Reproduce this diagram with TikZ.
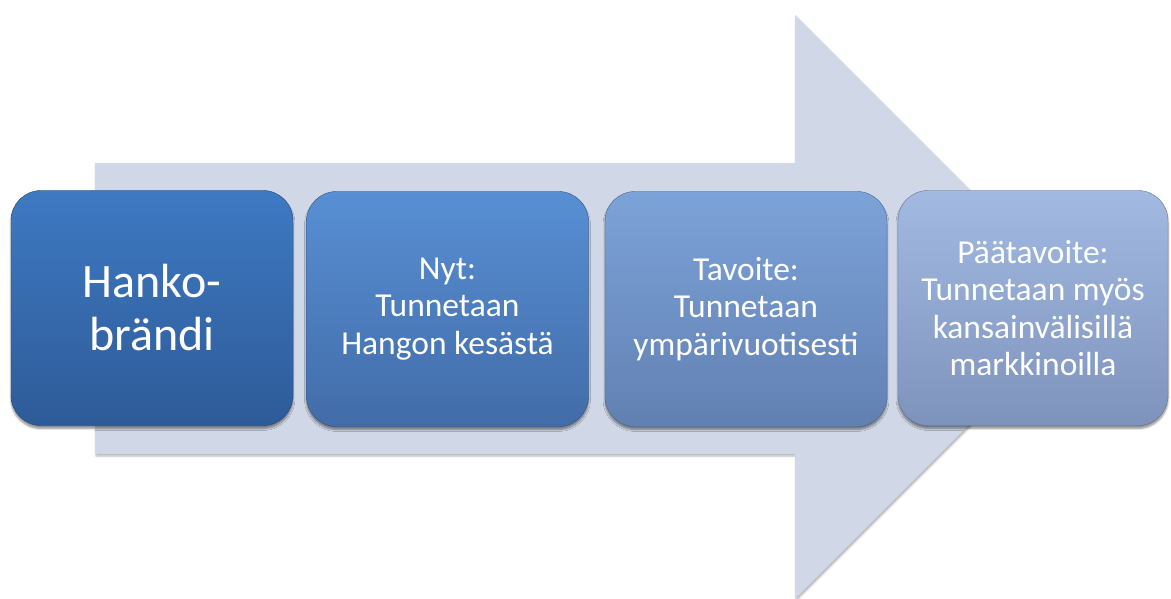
\documentclass[tikz,border=0pt]{standalone}
\usepackage{fontspec}
\setmainfont{Carlito}
\usetikzlibrary{shadows.blur}
\definecolor{arrowfill}{RGB}{208,215,230}
\definecolor{boxAtop}{RGB}{62,121,194}
\definecolor{boxAbot}{RGB}{46,91,152}
\definecolor{boxBtop}{RGB}{88,143,212}
\definecolor{boxBbot}{RGB}{66,108,168}
\definecolor{boxCtop}{RGB}{124,163,217}
\definecolor{boxCbot}{RGB}{98,128,178}
\definecolor{boxDtop}{RGB}{162,186,226}
\definecolor{boxDbot}{RGB}{126,147,188}
\tikzset{
  stagebox/.style={rounded corners=30pt, minimum height=235pt, inner sep=4pt,
    align=center, text=white, font=\fontsize{33.5}{37.5}\selectfont,
    blur shadow={shadow xshift=0pt, shadow yshift=-3pt, shadow blur steps=6, shadow opacity=45}},
}
\begin{document}
\begin{tikzpicture}[x=1pt,y=-1pt]
\useasboundingbox (0,0) rectangle (1171,599);
\fill[arrowfill, blur shadow={shadow xshift=1pt, shadow yshift=-2pt, shadow blur steps=4, shadow opacity=30}]
  (95,163) -- (795,163) -- (795,15) -- (1087,307) -- (795,599) -- (795,454) -- (95,454) -- cycle;
\node[stagebox, minimum width=282pt, top color=boxAtop, bottom color=boxAbot, draw=boxAbot!80!black,
  font=\fontsize{48}{53}\selectfont] (b1) at (152,308) {Hanko-\\brändi};
\node[stagebox, minimum width=282pt, top color=boxBtop, bottom color=boxBbot, draw=boxBbot!80!black] (b2) at (447.5,309) {Nyt:\\Tunnetaan\\Hangon kesästä};
\node[stagebox, minimum width=282pt, top color=boxCtop, bottom color=boxCbot, draw=boxCbot!80!black] (b3) at (746,309) {Tavoite:\\Tunnetaan\\ympärivuotisesti};
\node[stagebox, minimum width=270pt, top color=boxDtop, bottom color=boxDbot, draw=boxDbot!80!black] (b4) at (1033,308) {Päätavoite:\\Tunnetaan myös\\kansainvälisillä\\markkinoilla};
\end{tikzpicture}
\end{document}
